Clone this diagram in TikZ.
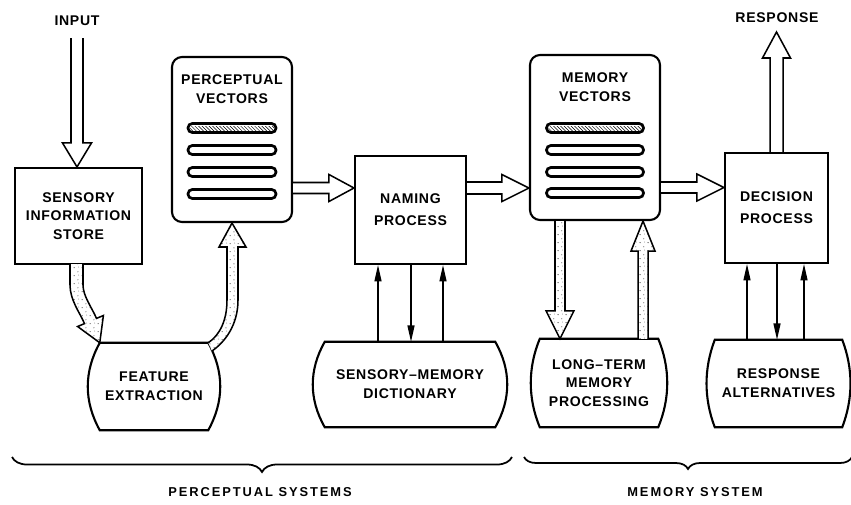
\documentclass[tikz,border=0pt]{standalone}
\usepackage{fontspec}
\setmainfont{Liberation Sans}[LetterSpace=5]
\usetikzlibrary{calc,patterns,decorations.pathreplacing,arrows.meta}

% sparse stipple used inside the broad flow arrows
\pgfdeclarepatternformonly{stipple}{\pgfpointorigin}{\pgfpoint{7pt}{7pt}}{\pgfpoint{7pt}{7pt}}{%
  \pgfpathcircle{\pgfpoint{1pt}{1.2pt}}{0.5pt}%
  \pgfpathcircle{\pgfpoint{4.5pt}{4.8pt}}{0.45pt}%
  \pgfpathcircle{\pgfpoint{5.2pt}{1.8pt}}{0.3pt}%
  \pgfusepath{fill}}

% broad arrow: #1 style, #2 start, #3 tip, #4 shaft half width, #5 head half width, #6 head length (px)
\newcommand\fatarrow[6]{%
  \pgfmathsetlengthmacro\faW{#4*0.03cm}%
  \pgfmathsetlengthmacro\faH{#5*0.03cm}%
  \pgfmathsetlengthmacro\faL{#6*0.03cm}%
  \coordinate (fab) at ($(#3)!\faL!(#2)$);
  \draw[#1] ($(#2)!\faW!90:(#3)$) -- ($(fab)!\faW!-90:(#2)$) -- ($(fab)!\faH!-90:(#2)$)
    -- (#3) -- ($(fab)!\faH!90:(#2)$) -- ($(fab)!\faW!90:(#2)$) -- ($(#2)!\faW!-90:(#3)$);
}
% barrel outline around a text node: #1 node, #2 bulge control, #3 vertical control
\newcommand\barrelpath[3]{%
  \draw[outline] (#1.north west) -- (#1.north east)
    .. controls +(#2,#3) and +(#2,-#3) .. (#1.south east) -- (#1.south west)
    .. controls +(-#2,-#3) and +(-#2,#3) .. (#1.north west) -- cycle;
}

\begin{document}
\begin{tikzpicture}[x=0.03cm,y=-0.03cm,
  lbl/.style={font=\bfseries\fontsize{12}{16}\selectfont, align=center, inner sep=0pt},
  box/.style={draw, line width=1.8pt, lbl},
  outline/.style={draw, line width=1.8pt},
  hollow/.style={draw, line width=1.3pt, fill=white, line join=miter},
  stip/.style={draw, line width=1.3pt, preaction={fill=white}, pattern=stipple, line join=miter},
  barst/.style={draw, line width=2.3pt, rounded corners=0.13cm, fill=white},
  tarr/.style={line width=1.1pt, -{Triangle[length=14pt,width=6pt]}},
  brc/.style={draw, line width=1.5pt, decorate, decoration={brace, mirror, amplitude=#1}},
  sysname/.style={font=\bfseries\fontsize{11}{13}\selectfont\addfontfeature{LetterSpace=15}, inner sep=0pt}
]
\useasboundingbox (0,0) rectangle (851,504);

% ---------- boxes ----------
\node[box, minimum width=127*0.03cm, minimum height=96*0.03cm] (sis) at (78.5,216) {SENSORY\\INFORMATION\\STORE};
\node[box, rounded corners=0.3cm, minimum width=120*0.03cm, minimum height=165*0.03cm] (pv) at (232,139.5) {};
\node[lbl] (pvt) at (232,89) {PERCEPTUAL\\VECTORS};
\node[box, minimum width=111*0.03cm, minimum height=108*0.03cm] (nam) at (410.5,210) {NAMING\\[3pt]PROCESS};
\node[box, rounded corners=0.3cm, minimum width=130*0.03cm, minimum height=165*0.03cm] (mv) at (595,137.5) {};
\node[lbl] (mvt) at (595,87) {MEMORY\\VECTORS};
\node[box, minimum width=103*0.03cm, minimum height=110*0.03cm] (dec) at (776.5,208) {DECISION\\[3pt]PROCESS};

% vector bars
\foreach \yy in {-11.5,10.5,32.5,54.5}{
  \draw[barst] ($(pv.center)+(-44,\yy-4.5)$) rectangle ($(pv.center)+(44,\yy+4.5)$);
}
\foreach \yy in {-9.5,12.5,34.5,55.5}{
  \draw[barst] ($(mv.center)+(-48.5,\yy-4.5)$) rectangle ($(mv.center)+(48.5,\yy+4.5)$);
}
\fill[pattern=north west lines] ($(pv.center)+(-42,-13.5)$) rectangle ($(pv.center)+(42,-9.5)$);
\fill[pattern=north west lines] ($(mv.center)+(-46.5,-11.5)$) rectangle ($(mv.center)+(46.5,-7.5)$);

% ---------- barrels ----------
\node[lbl, minimum width=108*0.03cm, minimum height=87*0.03cm] (fe) at (154,386.5) {FEATURE\\EXTRACTION};
\barrelpath{fe}{16}{29}
\node[lbl, minimum width=170*0.03cm, minimum height=85*0.03cm] (sm) at (410,384.5) {SENSORY–MEMORY\\DICTIONARY};
\barrelpath{sm}{16}{28}
\node[lbl, minimum width=118*0.03cm, minimum height=88*0.03cm] (lt) at (599,383) {LONG–TERM\\MEMORY\\PROCESSING};
\barrelpath{lt}{12}{29}
\node[lbl, minimum width=127*0.03cm, minimum height=87*0.03cm] (ra) at (778.5,383.5) {RESPONSE\\ALTERNATIVES};
\barrelpath{ra}{11}{29}

% ---------- input / response ----------
\node[lbl] (inlbl) at (77,21) {INPUT};
\coordinate (inp) at (77,38);
\coordinate (inpt) at (inp |- sis.north);
\fatarrow{hollow}{inp}{inpt}{6}{14.5}{24}

\node[lbl] (rslbl) at (777,18) {RESPONSE};
\coordinate (rsp) at (776.5,32);
\fatarrow{hollow}{dec.north}{rsp}{6.5}{14}{26}

% ---------- horizontal flow ----------
\coordinate (h1s) at ($(pv.east)+(0,48.5)$);
\coordinate (h1t) at (h1s -| nam.west);
\fatarrow{hollow}{h1s}{h1t}{5.5}{13.5}{25}
\coordinate (h2s) at (nam.east |- h1s);
\coordinate (h2t) at (h1s -| mv.west);
\fatarrow{hollow}{h2s}{h2t}{6}{13.5}{27}
\coordinate (h3s) at ($(mv.east)+(0,50)$);
\coordinate (h3t) at (h3s -| dec.west);
\fatarrow{hollow}{h3s}{h3t}{5.5}{13.5}{27}

% ---------- stippled transfers ----------
\draw[stip] (70,264) -- (70,285) .. controls (70,300) and (79.8,312.6) .. (84.5,323.6)
  -- (77.6,326.5) -- (fe.north west) -- (103.4,315.5) -- (96.5,318.4)
  .. controls (91.8,307.4) and (83,296) .. (83,285) -- (83,264);
\draw[stip] (fe.north east) .. controls (220,335) and (227,320) .. (227,300) -- (227,247)
  -- (219,247) -- (pv.south) -- (246,247) -- (238,247) -- (238,300)
  .. controls (238,325) and (225,342) .. (212,351);

\coordinate (d1s) at ($(mv.south)+(-35,0)$);
\coordinate (d1t) at (d1s |- lt.north);
\fatarrow{stip}{d1s}{d1t}{5}{14}{28}
\coordinate (u1s) at ($(lt.north)+(44,0)$);
\coordinate (u1t) at (u1s |- mv.south);
\fatarrow{stip}{u1s}{u1t}{5}{12}{30}

% ---------- thin exchanges ----------
\coordinate (n1) at ($(nam.south)+(-32.5,0)$);
\coordinate (n2) at ($(nam.south)+(0.5,0)$);
\coordinate (n3) at ($(nam.south)+(32.5,0)$);
\draw[tarr] (n1 |- sm.north) -- (n1);
\draw[tarr] (n2) -- (n2 |- sm.north);
\draw[tarr] (n3 |- sm.north) -- (n3);
\coordinate (r1) at ($(dec.south)+(-29.5,0)$);
\coordinate (r2) at ($(dec.south)+(0.5,0)$);
\coordinate (r3) at ($(dec.south)+(27.5,0)$);
\draw[tarr] (r1 |- ra.north) -- (r1);
\draw[tarr] (r2) -- (r2 |- ra.north);
\draw[tarr] (r3 |- ra.north) -- (r3);

% ---------- braces and captions ----------
\coordinate (b1l) at (12,457);
\coordinate (b1r) at (512,457);
\draw[brc=0.45cm] (b1l) -- (b1r);
\coordinate (b2l) at (524,457);
\coordinate (b2r) at (852,457);
\draw[brc=0.36cm] (b2l) -- (b2r);
\node[sysname] (psys) at (260,492) {PERCEPTUAL SYSTEMS};
\node[sysname] (msys) at (695,492) {MEMORY SYSTEM};
\end{tikzpicture}
\end{document}
